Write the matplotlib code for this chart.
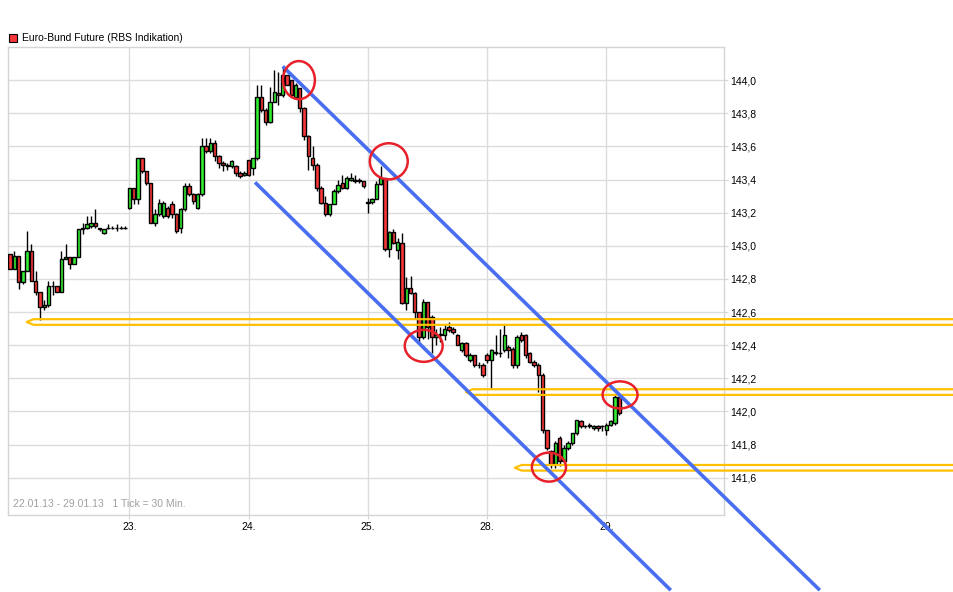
import numpy as np
import matplotlib.pyplot as plt
from matplotlib.patches import Ellipse, Rectangle

plt.rcParams['font.family'] = ['Liberation Sans', 'DejaVu Sans']

# 30 min candles, 28 per trading day (22., 23., 24., 25., 28., 29.)
day_labels = ["23.", "24.", "25.", "28.", "29."]
day_ticks = [28, 56, 84, 112, 140]

# 22.01.
o22 = [142.95, 142.86, 142.94, 142.78, 142.85, 142.97, 142.79, 142.72, 142.63, 142.64, 142.76, 142.76, 142.72, 142.92,
       142.93, 142.89, 142.93, 143.10, 143.11, 143.12, 143.14, 143.11, 143.08, 143.11, 143.11, 143.11, 143.11, 143.11]
h22 = [142.95, 142.97, 142.94, 142.85, 143.09, 143.01, 142.85, 142.72, 142.67, 142.79, 142.79, 142.76, 142.97, 143.01,
       142.93, 142.93, 143.10, 143.14, 143.18, 143.18, 143.22, 143.11, 143.10, 143.13, 143.12, 143.13, 143.12, 143.12]
l22 = [142.86, 142.86, 142.74, 142.77, 142.85, 142.79, 142.70, 142.55, 142.61, 142.63, 142.70, 142.72, 142.72, 142.92,
       142.86, 142.89, 142.93, 143.07, 143.10, 143.11, 143.11, 143.09, 143.07, 143.10, 143.10, 143.09, 143.10, 143.10]
c22 = [142.86, 142.94, 142.78, 142.85, 142.97, 142.79, 142.72, 142.63, 142.64, 142.76, 142.76, 142.72, 142.92, 142.93,
       142.89, 142.93, 143.10, 143.11, 143.13, 143.14, 143.12, 143.10, 143.10, 143.11, 143.11, 143.11, 143.11, 143.11]

# 23.01.
o23 = [143.23, 143.35, 143.28, 143.53, 143.45, 143.38, 143.14, 143.19, 143.18, 143.23, 143.25, 143.19, 143.11, 143.22,
       143.36, 143.31, 143.23, 143.31, 143.60, 143.57, 143.62, 143.54, 143.50, 143.49, 143.48, 143.48, 143.44, 143.43]
h23 = [143.35, 143.35, 143.53, 143.53, 143.45, 143.38, 143.22, 143.28, 143.27, 143.24, 143.27, 143.20, 143.23, 143.38,
       143.38, 143.32, 143.32, 143.65, 143.65, 143.65, 143.64, 143.55, 143.51, 143.50, 143.52, 143.49, 143.45, 143.45]
l23 = [143.22, 143.25, 143.25, 143.44, 143.37, 143.14, 143.12, 143.18, 143.17, 143.17, 143.17, 143.08, 143.08, 143.21,
       143.30, 143.25, 143.22, 143.30, 143.56, 143.56, 143.51, 143.47, 143.45, 143.46, 143.47, 143.42, 143.41, 143.42]
c23 = [143.35, 143.28, 143.53, 143.45, 143.38, 143.14, 143.19, 143.26, 143.26, 143.18, 143.19, 143.09, 143.22, 143.36,
       143.31, 143.27, 143.31, 143.60, 143.57, 143.62, 143.54, 143.50, 143.49, 143.48, 143.51, 143.44, 143.42, 143.44]

# 24.01.
o24 = [143.52, 143.47, 143.53, 143.90, 143.82, 143.75, 143.87, 143.92, 143.91, 144.03, 144.00, 143.90, 143.95, 143.83,
       143.66, 143.53, 143.49, 143.35, 143.26, 143.19, 143.25, 143.33, 143.38, 143.35, 143.40, 143.40, 143.40, 143.39]
h24 = [143.52, 143.53, 143.97, 143.97, 143.83, 143.96, 144.06, 144.05, 144.08, 144.03, 144.00, 143.98, 143.95, 143.84,
       143.67, 143.60, 143.50, 143.36, 143.30, 143.25, 143.34, 143.40, 143.43, 143.42, 143.44, 143.43, 143.41, 143.39]
l24 = [143.42, 143.43, 143.52, 143.81, 143.73, 143.74, 143.87, 143.85, 143.90, 143.97, 143.90, 143.89, 143.81, 143.64,
       143.46, 143.46, 143.33, 143.25, 143.18, 143.18, 143.25, 143.32, 143.34, 143.34, 143.39, 143.38, 143.38, 143.35]
c24 = [143.43, 143.53, 143.90, 143.82, 143.75, 143.87, 143.93, 143.91, 144.03, 143.97, 143.91, 143.97, 143.83, 143.66,
       143.54, 143.49, 143.35, 143.26, 143.19, 143.25, 143.33, 143.37, 143.35, 143.41, 143.41, 143.39, 143.39, 143.36]

# 25.01.
o25 = [143.26, 143.265, 143.284, 143.374, 143.408, 142.978, 143.082, 142.974, 143.018, 142.654, 142.748, 142.714,
       142.598, 142.448, 142.658, 142.568, 142.45, 142.46, 142.46, 142.51, 142.50, 142.464, 142.372, 142.412, 142.312,
       142.338, 142.282, 142.282]
h25 = [143.29, 143.29, 143.39, 143.48, 143.41, 143.09, 143.10, 143.05, 143.08, 142.81, 142.82, 142.72, 142.60, 142.68,
       142.66, 142.58, 142.50, 142.51, 142.53, 142.54, 142.51, 142.47, 142.42, 142.42, 142.35, 142.34, 142.30, 142.29]
l25 = [143.20, 143.25, 143.28, 143.37, 142.97, 142.93, 143.01, 142.92, 142.65, 142.61, 142.71, 142.56, 142.42, 142.44,
       142.44, 142.35, 142.40, 142.42, 142.43, 142.48, 142.47, 142.40, 142.36, 142.33, 142.30, 142.27, 142.26, 142.21]
c25 = [143.265, 143.284, 143.374, 143.408, 142.978, 143.082, 143.018, 143.02, 142.654, 142.748, 142.714, 142.598,
       142.448, 142.658, 142.508, 142.448, 142.46, 142.47, 142.50, 142.49, 142.48, 142.404, 142.412, 142.338, 142.338,
       142.282, 142.28, 142.222]

# 28.01.
o28 = [142.34, 142.31, 142.36, 142.35, 142.37, 142.39, 142.38, 142.28, 142.46, 142.46, 142.35, 142.30, 142.28, 142.22,
       141.89, 141.76, 141.68, 141.84, 141.70, 141.78, 141.81, 141.87, 141.94, 141.91, 141.92, 141.90, 141.91, 141.91]
h28 = [142.35, 142.38, 142.46, 142.50, 142.52, 142.40, 142.39, 142.46, 142.48, 142.47, 142.36, 142.31, 142.29, 142.23,
       141.89, 141.77, 141.82, 141.85, 141.80, 141.82, 141.87, 141.95, 141.95, 141.92, 141.93, 141.92, 141.92, 141.92]
l28 = [142.29, 142.14, 142.34, 142.33, 142.36, 142.32, 142.26, 142.26, 142.42, 142.32, 142.29, 142.27, 142.12, 141.87,
       141.77, 141.66, 141.66, 141.67, 141.69, 141.77, 141.80, 141.86, 141.90, 141.90, 141.90, 141.89, 141.88, 141.88]
c28 = [142.31, 142.37, 142.35, 142.35, 142.46, 142.37, 142.28, 142.45, 142.43, 142.34, 142.30, 142.28, 142.22, 141.89,
       141.78, 141.68, 141.81, 141.70, 141.78, 141.81, 141.87, 141.95, 141.91, 141.91, 141.91, 141.91, 141.90, 141.91]

# 29.01. (only the first candles)
o29 = [141.89, 141.92, 141.93, 142.09]
h29 = [141.93, 141.95, 142.10, 142.10]
l29 = [141.86, 141.91, 141.92, 141.98]
c29 = [141.92, 141.94, 142.09, 141.99]

opens = np.array(o22 + o23 + o24 + o25 + o28 + o29)
highs = np.array(h22 + h23 + h24 + h25 + h28 + h29)
lows = np.array(l22 + l23 + l24 + l25 + l28 + l29)
closes = np.array(c22 + c23 + c24 + c25 + c28 + c29)

# drawn in trend channel + marks
channel_x = [[64.0, 190.1], [57.5, 155.1]]
channel_y = [[144.083, 140.921], [143.383, 140.921]]
support_levels = [142.54, 142.117, 141.66]
support_start = [3.9, 107.0, 118.5]
circle_x = [67.8, 88.9, 97.1, 126.5, 143.2]
circle_y = [144.0, 143.51, 142.396, 141.664, 142.10]
circle_w = [7.5, 8.9, 8.9, 8.0, 8.2]
circle_h = [0.23, 0.218, 0.193, 0.175, 0.163]

fig = plt.figure(figsize=(9.54, 5.92), dpi=100)
ax = fig.add_axes([8 / 954, 77 / 592, 716 / 954, 468 / 592])

x = np.arange(len(opens))
up = closes >= opens
bottom = np.minimum(opens, closes)
height = np.abs(closes - opens)

ax.vlines(x, lows, highs, color='black', linewidth=1.0, zorder=2)
ax.bar(x[up], height[up], bottom=bottom[up], width=0.8, color='#33ee33',
       edgecolor='black', linewidth=1.0, zorder=3)
ax.bar(x[~up], height[~up], bottom=bottom[~up], width=0.8, color='#f83838',
       edgecolor='black', linewidth=1.0, zorder=3)

# support lines (double line with pointed end)
for lvl, x0 in zip(support_levels, support_start):
    d = 0.017
    ax.plot([222, x0 + 1.6, x0, x0 + 1.6, 222], [lvl + d, lvl + d, lvl, lvl - d, lvl - d],
            color='#ffc000', linewidth=1.6, clip_on=False, zorder=5)

for cx, cy in zip(channel_x, channel_y):
    ax.plot(cx, cy, color='#4a6ef0', linewidth=2.6, clip_on=False, zorder=6,
            solid_capstyle='butt')

for ex, ey, ew, eh in zip(circle_x, circle_y, circle_w, circle_h):
    ax.add_patch(Ellipse((ex, ey), ew, eh, fill=False, edgecolor='#e8202a',
                         linewidth=1.8, zorder=7))

ax.set_xlim(-0.5, 167.6)
ax.set_ylim(141.375, 144.2)

ax.set_xticks(day_ticks)
ax.set_xticklabels(day_labels)
yt = np.arange(141.6, 144.01, 0.2)
ax.set_yticks(yt)
ax.set_yticklabels([f"{v:.1f}".replace('.', ',') for v in yt])
ax.yaxis.tick_right()
ax.tick_params(axis='both', length=3, color='#d4d4d4', labelsize=7.5, labelcolor='black')
ax.tick_params(axis='y', pad=1.5)
ax.tick_params(axis='x', pad=2)

ax.grid(True, color='#dcdcdc', linewidth=1.0, zorder=0)
ax.set_axisbelow(True)
for s in ax.spines.values():
    s.set_color('#d4d4d4')
    s.set_linewidth(1.0)

ax.text(0.007, 0.012, "22.01.13 - 29.01.13   1 Tick = 30 Min.", transform=ax.transAxes,
        fontsize=7.5, color='#a0a0a0', ha='left', va='bottom')

# legend at top left
fig.add_artist(Rectangle((9 / 954, (592 - 42) / 592), 8 / 954, 8 / 592, transform=fig.transFigure,
                         facecolor='#f83838', edgecolor='black', linewidth=0.8))
fig.text(22 / 954, (592 - 38) / 592, "Euro-Bund Future (RBS Indikation)", fontsize=7.5,
         color='black', ha='left', va='center')

fig.savefig("out.png", dpi=100)
